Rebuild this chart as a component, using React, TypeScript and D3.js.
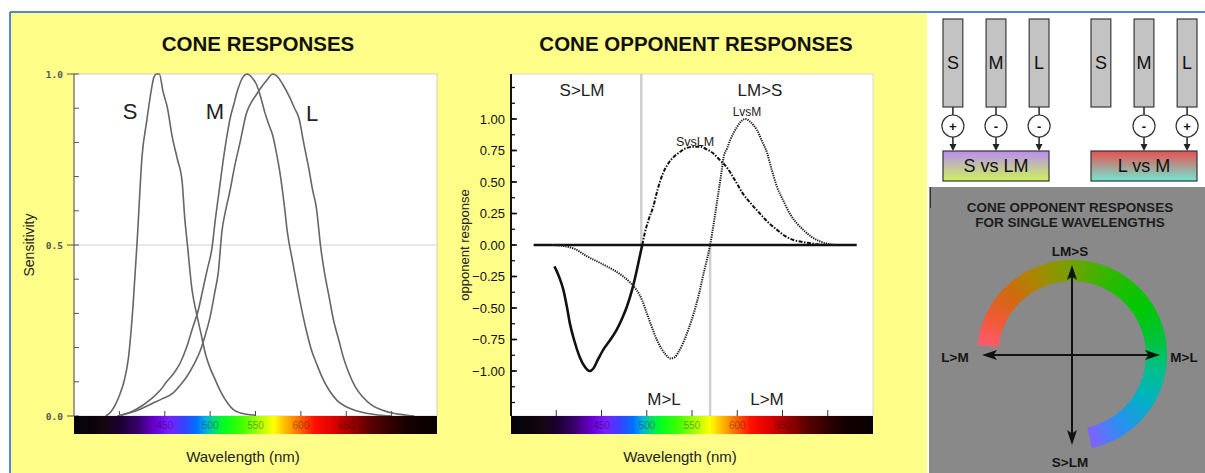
import React, { useEffect, useRef } from "react";
import * as d3 from "d3";

const W = 1205;
const H = 473;

// [wavelength nm, relative sensitivity]
const sCone = [
  [385, 0], [390, 0.01], [395, 0.03], [400, 0.06], [405, 0.1], [410, 0.17], [415, 0.32],
  [420, 0.53], [425, 0.76], [430, 0.86], [435, 0.95], [438, 0.99], [441, 1.0], [444, 1.0],
  [448, 0.95], [453, 0.9], [458, 0.82], [464, 0.75], [469, 0.69], [472, 0.58], [475, 0.5],
  [480, 0.37], [485, 0.3], [490, 0.24], [495, 0.18], [500, 0.14], [505, 0.11], [510, 0.08],
  [515, 0.055], [520, 0.035], [525, 0.02], [530, 0.012], [540, 0.005], [550, 0.002],
];
const mCone = [
  [398, 0], [405, 0.005], [415, 0.015], [425, 0.03], [435, 0.05], [445, 0.075], [452, 0.1],
  [460, 0.125], [467, 0.155], [474, 0.2], [481, 0.26], [487, 0.31], [492, 0.37], [497, 0.43],
  [502, 0.49], [506, 0.58], [510, 0.66], [514, 0.74], [518, 0.81], [522, 0.87], [526, 0.91],
  [530, 0.95], [536, 0.99], [541, 1.0], [546, 0.99], [551, 0.97], [556, 0.93], [560, 0.89],
  [565, 0.85], [569, 0.82], [573, 0.77], [577, 0.71], [582, 0.61], [585, 0.54], [591, 0.45],
  [598, 0.35], [606, 0.25], [612, 0.19], [617, 0.155], [624, 0.11], [631, 0.076], [640, 0.045],
  [650, 0.027], [660, 0.016], [672, 0.008], [685, 0.003], [700, 0],
];
const lCone = [
  [398, 0], [410, 0.008], [423, 0.02], [435, 0.035], [447, 0.05], [459, 0.067], [467, 0.09],
  [474, 0.114], [482, 0.15], [489, 0.19], [495, 0.24], [500, 0.29], [505, 0.36], [509, 0.42],
  [513, 0.54], [517, 0.6], [522, 0.66], [527, 0.73], [533, 0.8], [540, 0.885], [546, 0.92],
  [551, 0.94], [556, 0.96], [562, 0.98], [569, 1.0], [575, 0.99], [580, 0.97], [588, 0.93],
  [593, 0.9], [598, 0.87], [603, 0.8], [609, 0.72], [613, 0.66], [617, 0.61], [622, 0.49],
  [626, 0.42], [631, 0.35], [636, 0.28], [642, 0.22], [647, 0.17], [653, 0.125], [660, 0.085],
  [668, 0.056], [678, 0.032], [690, 0.017], [702, 0.008], [715, 0.003], [725, 0],
];

// [wavelength nm, opponent response]
const svsLM = [
  [398, -0.17], [403, -0.25], [408, -0.36], [412, -0.5], [415, -0.62], [420, -0.76], [426, -0.89],
  [431, -0.96], [437, -1.0], [441, -0.98], [446, -0.91], [452, -0.83], [460, -0.75], [467, -0.67],
  [473, -0.58], [478, -0.49], [484, -0.35], [489, -0.2], [492, -0.1], [495, 0], [498, 0.1],
  [502, 0.2], [507, 0.3], [512, 0.44], [518, 0.57], [524, 0.65], [530, 0.7], [537, 0.74],
  [544, 0.77], [552, 0.78], [559, 0.78], [566, 0.76], [573, 0.73], [580, 0.68], [588, 0.62],
  [597, 0.52], [606, 0.41], [615, 0.33], [625, 0.25], [634, 0.18], [644, 0.12], [653, 0.07],
  [662, 0.04], [671, 0.025], [680, 0.015], [690, 0.005], [700, 0],
];
const lvsM = [
  [395, 0], [410, -0.01], [420, -0.03], [434, -0.09], [445, -0.13], [456, -0.17], [466, -0.21],
  [474, -0.25], [482, -0.3], [489, -0.36], [495, -0.44], [500, -0.54], [505, -0.64], [511, -0.75],
  [516, -0.82], [521, -0.87], [526, -0.9], [531, -0.89], [535, -0.85], [540, -0.78], [546, -0.67],
  [552, -0.54], [558, -0.38], [563, -0.22], [567, -0.1], [570, 0], [574, 0.17], [578, 0.36],
  [582, 0.55], [585, 0.7], [589, 0.77], [592, 0.83], [596, 0.89], [600, 0.94], [604, 0.98],
  [609, 1.0], [614, 0.98], [618, 0.95], [622, 0.91], [627, 0.83], [633, 0.73], [638, 0.6],
  [644, 0.46], [651, 0.35], [658, 0.25], [666, 0.17], [673, 0.12], [682, 0.065], [691, 0.03],
  [700, 0.01], [710, 0],
];

const waveDomain = [350, 750];
const waveTicks = [400, 450, 500, 550, 600, 650, 700];
const spectrumLabels = [450, 500, 550, 600, 650];
const sensLabels = [0, 0.5, 1];
const sensMinor = d3.range(0, 1.001, 0.1);
const oppLabels = [1, 0.75, 0.5, 0.25, 0, -0.25, -0.5, -0.75, -1];
const oppMinor = d3.range(-1.25, 1.26, 0.125);
const zeroLine = [375, 732];
const svsLMSplit = 495; // where the S vs LM curve changes style
const divUpper = 494; // S>LM | LM>S
const divLower = 570; // M>L | L>M

const spectrumStops = [
  [350, "#03030d"], [370, "#0a0308"], [385, "#170510"], [400, "#1a0030"], [420, "#38006a"],
  [440, "#6a00d8"], [455, "#7a20ff"], [470, "#3a40ff"], [485, "#0070ff"], [495, "#00b0e0"],
  [505, "#00e070"], [515, "#00ff20"], [535, "#40ff00"], [555, "#b0ff00"], [570, "#ffff00"],
  [585, "#ffb000"], [600, "#ff6000"], [615, "#ff1000"], [635, "#e00000"], [655, "#a00000"],
  [675, "#600000"], [700, "#300000"], [720, "#120000"], [750, "#0a0000"],
];

const cones = ["S", "M", "L"];
const pathways = [
  { name: "S vs LM", signs: ["+", "-", "-"], top: "#b98df2", bottom: "#cdf35a" },
  { name: "L vs M", signs: [null, "-", "+"], top: "#ea4f50", bottom: "#6fe8d2" },
];

// wheel colour by angle (degrees, 0 = up, clockwise)
const wheelStops = [
  [-84, "#ff5a6e"], [-65, "#f05a35"], [-45, "#d06a10"], [-25, "#a88800"], [0, "#72a200"],
  [25, "#30b800"], [55, "#00c800"], [80, "#00c33a"], [100, "#00c08a"], [120, "#00b4c0"],
  [145, "#2a90f0"], [168, "#8260ff"],
];
const wheelAxes = [
  { label: "LM>S", x: 1070, y: 256 },
  { label: "S>LM", x: 1070, y: 467 },
  { label: "L>M", x: 955, y: 362 },
  { label: "M>L", x: 1184, y: 362 },
];

const FONT = "'Liberation Sans', Arial, sans-serif";

export default function App() {
  const svgRef = useRef<SVGSVGElement>(null);

  useEffect(() => {
    const svg = d3.select(svgRef.current);
    svg.selectAll("*").remove();
    svg.attr("font-family", FONT);

    // page background
    svg.append("rect").attr("width", W).attr("height", H).attr("fill", "#ffffff");
    svg.append("rect").attr("x", 10).attr("y", 12).attr("width", 917).attr("height", H - 12).attr("fill", "#fefe88");
    svg.append("line").attr("x1", 10).attr("x2", W).attr("y1", 12).attr("y2", 12).attr("stroke", "#5585d4").attr("stroke-width", 2);
    svg.append("line").attr("x1", 10).attr("x2", 10).attr("y1", 12).attr("y2", H).attr("stroke", "#5585d4").attr("stroke-width", 2);

    const defs = svg.append("defs");
    const off = d3.scaleLinear().domain(waveDomain).range([0, 1]);
    const spec = defs.append("linearGradient").attr("id", "spec");
    spectrumStops.forEach(([w, c]) => spec.append("stop").attr("offset", off(w as number)).attr("stop-color", c as string));

    pathways.forEach((p, i) => {
      const g = defs.append("linearGradient").attr("id", "pw" + i).attr("x1", 0).attr("x2", 0).attr("y1", 0).attr("y2", 1);
      g.append("stop").attr("offset", 0).attr("stop-color", p.top);
      g.append("stop").attr("offset", 1).attr("stop-color", p.bottom);
    });

    function spectrum(x, y0) {
      const g = svg.append("g");
      g.append("rect")
        .attr("x", x(waveDomain[0]))
        .attr("y", y0)
        .attr("width", x(waveDomain[1]) - x(waveDomain[0]))
        .attr("height", 18)
        .attr("fill", "url(#spec)");
      g.selectAll("text")
        .data(spectrumLabels)
        .join("text")
        .attr("x", (d) => x(d))
        .attr("y", y0 + 13)
        .attr("text-anchor", "middle")
        .attr("font-size", 10)
        .attr("fill", "#000")
        .attr("fill-opacity", 0.38)
        .text((d) => d);
    }

    // ---------- CONE RESPONSES ----------
    const xL = d3.scaleLinear().domain(waveDomain).range([74, 437]);
    const yL = d3.scaleLinear().domain([0, 1]).range([416, 74]);
    const gl = svg.append("g");
    gl.append("rect").attr("x", 74).attr("y", 74).attr("width", 363).attr("height", 342).attr("fill", "#fff").attr("stroke", "#cfcfcf");
    gl.append("line").attr("x1", 74).attr("x2", 437).attr("y1", yL(0.5)).attr("y2", yL(0.5)).attr("stroke", "#d2d2d2");
    gl.append("line").attr("x1", 74).attr("x2", 74).attr("y1", 74).attr("y2", 416).attr("stroke", "#555");
    gl.selectAll("line.minor").data(sensMinor).join("line").attr("class", "minor")
      .attr("x1", 74).attr("x2", 79).attr("y1", (d) => yL(d)).attr("y2", (d) => yL(d)).attr("stroke", "#555");
    gl.selectAll("line.major").data(sensLabels).join("line").attr("class", "major")
      .attr("x1", 67).attr("x2", 74).attr("y1", (d) => yL(d)).attr("y2", (d) => yL(d)).attr("stroke", "#555");
    gl.selectAll("text.yl").data(sensLabels).join("text").attr("class", "yl")
      .attr("x", 63).attr("y", (d) => yL(d) + 3.5).attr("text-anchor", "end")
      .attr("font-family", "'DejaVu Sans Mono', monospace").attr("font-size", 9.5).attr("font-weight", "bold").attr("fill", "#555")
      .text((d) => d3.format(".1f")(d));
    gl.selectAll("line.xt").data(waveTicks).join("line").attr("class", "xt")
      .attr("x1", (d) => xL(d)).attr("x2", (d) => xL(d)).attr("y1", 411).attr("y2", 416).attr("stroke", "#444");

    const lineL = d3.line().x((d) => xL(d[0])).y((d) => yL(d[1])).curve(d3.curveMonotoneX);
    gl.selectAll("path.cone").data([sCone, mCone, lCone]).join("path").attr("class", "cone")
      .attr("d", (d) => lineL(d)).attr("fill", "none").attr("stroke", "#666").attr("stroke-width", 1.6);

    [["S", 130, 119], ["M", 215, 119], ["L", 312, 121]].forEach(([t, x, y]) =>
      gl.append("text").attr("x", x).attr("y", y).attr("text-anchor", "middle").attr("font-size", 22).attr("fill", "#222").text(t)
    );
    spectrum(xL, 416);
    gl.append("text").attr("x", 258).attr("y", 51).attr("text-anchor", "middle").attr("font-size", 20.5).attr("font-weight", "bold").attr("fill", "#111").text("CONE RESPONSES");
    gl.append("text").attr("x", 243).attr("y", 462).attr("text-anchor", "middle").attr("font-size", 15).attr("fill", "#222").text("Wavelength (nm)");
    gl.append("text").attr("transform", "translate(34,245) rotate(-90)").attr("text-anchor", "middle").attr("font-size", 14).attr("fill", "#222").text("Sensitivity");

    // ---------- CONE OPPONENT RESPONSES ----------
    const xM = d3.scaleLinear().domain(waveDomain).range([511, 873]);
    const yM = d3.scaleLinear().domain([-1, 1]).range([371, 119]);
    const gm = svg.append("g");
    gm.append("rect").attr("x", 511).attr("y", 74).attr("width", 362).attr("height", 342).attr("fill", "#fff").attr("stroke", "#d8d8d8");
    gm.append("line").attr("x1", xM(divUpper)).attr("x2", xM(divUpper)).attr("y1", 74).attr("y2", yM(0)).attr("stroke", "#cfcfcf").attr("stroke-width", 2.5);
    gm.append("line").attr("x1", xM(divLower)).attr("x2", xM(divLower)).attr("y1", yM(0)).attr("y2", 416).attr("stroke", "#cfcfcf").attr("stroke-width", 2.5);
    gm.append("line").attr("x1", 511).attr("x2", 511).attr("y1", 74).attr("y2", 416).attr("stroke", "#111").attr("stroke-width", 2);
    gm.selectAll("line.minor").data(oppMinor).join("line").attr("class", "minor")
      .attr("x1", 511).attr("x2", 515).attr("y1", (d) => yM(d)).attr("y2", (d) => yM(d)).attr("stroke", "#111").attr("stroke-width", 1.3);
    gm.selectAll("line.major").data(oppLabels).join("line").attr("class", "major")
      .attr("x1", 511).attr("x2", 517).attr("y1", (d) => yM(d)).attr("y2", (d) => yM(d)).attr("stroke", "#111").attr("stroke-width", 1.6);
    gm.selectAll("text.yl").data(oppLabels).join("text").attr("class", "yl")
      .attr("x", 505).attr("y", (d) => yM(d) + 4.5).attr("text-anchor", "end").attr("font-size", 13).attr("fill", "#111")
      .text((d) => d3.format(".2f")(d));
    gm.selectAll("line.xt").data(waveTicks).join("line").attr("class", "xt")
      .attr("x1", (d) => xM(d)).attr("x2", (d) => xM(d)).attr("y1", 410).attr("y2", 416).attr("stroke", "#333");
    gm.append("line").attr("x1", xM(zeroLine[0])).attr("x2", xM(zeroLine[1])).attr("y1", yM(0)).attr("y2", yM(0)).attr("stroke", "#111").attr("stroke-width", 2.4);

    const lineM = d3.line().x((d) => xM(d[0])).y((d) => yM(d[1])).curve(d3.curveMonotoneX);
    gm.append("path").attr("d", lineM(svsLM.filter((d) => d[0] <= svsLMSplit)))
      .attr("fill", "none").attr("stroke", "#111").attr("stroke-width", 2.6);
    gm.append("path").attr("d", lineM(svsLM.filter((d) => d[0] >= svsLMSplit)))
      .attr("fill", "none").attr("stroke", "#111").attr("stroke-width", 2).attr("stroke-dasharray", "4,1.5,1.5,1.5");
    gm.append("path").attr("d", lineM(lvsM))
      .attr("fill", "none").attr("stroke", "#222").attr("stroke-width", 2).attr("stroke-dasharray", "1.3,1");

    [["S>LM", 582, 96], ["LM>S", 760, 96], ["M>L", 664, 405], ["L>M", 767, 405]].forEach(([t, x, y]) =>
      gm.append("text").attr("x", x).attr("y", y).attr("text-anchor", "middle").attr("font-size", 17).attr("fill", "#222").text(t)
    );
    gm.append("text").attr("x", 747).attr("y", 116).attr("text-anchor", "middle").attr("font-size", 12).attr("fill", "#222").text("LvsM");
    gm.append("text").attr("x", 695).attr("y", 146).attr("text-anchor", "middle").attr("font-size", 12.5).attr("fill", "#222").text("SvsLM");
    spectrum(xM, 416);
    gm.append("text").attr("x", 696).attr("y", 51).attr("text-anchor", "middle").attr("font-size", 20.5).attr("font-weight", "bold").attr("fill", "#111").text("CONE OPPONENT RESPONSES");
    gm.append("text").attr("x", 680).attr("y", 462).attr("text-anchor", "middle").attr("font-size", 15).attr("fill", "#222").text("Wavelength (nm)");
    gm.append("text").attr("transform", "translate(469,245) rotate(-90)").attr("text-anchor", "middle").attr("font-size", 13).attr("fill", "#222").text("opponent response");

    // ---------- pathway diagram ----------
    const gd = svg.append("g");
    gd.append("rect").attr("x", 927).attr("y", 13).attr("width", W - 927).attr("height", 174).attr("fill", "#fff");
    const groupX = [943, 1091];
    const coneX = d3.scaleBand().domain(cones).range([0, 106]).paddingInner(0.54).paddingOuter(0);
    pathways.forEach((p, gi) => {
      const g = gd.append("g").attr("transform", `translate(${groupX[gi]},0)`);
      const cx = (c) => coneX(c) + coneX.bandwidth() / 2;
      g.selectAll("rect.cone").data(cones).join("rect").attr("class", "cone")
        .attr("x", (c) => coneX(c)).attr("y", 19).attr("width", coneX.bandwidth()).attr("height", 88)
        .attr("fill", "#c3c3c3").attr("stroke", "#3a3a3a").attr("stroke-width", 1.2);
      g.selectAll("text.cone").data(cones).join("text").attr("class", "cone")
        .attr("x", cx).attr("y", 69).attr("text-anchor", "middle").attr("font-size", 18).attr("fill", "#111").text((c) => c);
      const inputs = cones.map((c, i) => ({ c, s: p.signs[i] })).filter((d) => d.s);
      const ig = g.selectAll("g.in").data(inputs).join("g").attr("transform", (d) => `translate(${cx(d.c)},0)`);
      ig.append("line").attr("y1", 107).attr("y2", 115).attr("stroke", "#222").attr("stroke-width", 1.5);
      ig.append("circle").attr("cy", 126).attr("r", 11).attr("fill", "#fff").attr("stroke", "#333").attr("stroke-width", 1.2);
      ig.append("text").attr("y", 131).attr("text-anchor", "middle").attr("font-size", 13).attr("font-weight", "bold").attr("fill", "#111").text((d) => d.s);
      ig.append("line").attr("y1", 137).attr("y2", 146).attr("stroke", "#222").attr("stroke-width", 1.5);
      ig.append("path").attr("d", "M-3.5,144L3.5,144L0,151Z").attr("fill", "#222");
      g.append("rect").attr("x", 0).attr("y", 151).attr("width", 106).attr("height", 30)
        .attr("fill", `url(#pw${gi})`).attr("stroke", "#333").attr("stroke-width", 1.2);
      g.append("text").attr("x", 53).attr("y", 172).attr("text-anchor", "middle").attr("font-size", 18).attr("fill", "#111").text(p.name);
    });

    // ---------- opponent wheel ----------
    const gw = svg.append("g");
    gw.append("rect").attr("x", 929).attr("y", 187).attr("width", W - 929).attr("height", H - 187).attr("fill", "#898989");
    gw.append("line").attr("x1", 930.5).attr("x2", 930.5).attr("y1", 187).attr("y2", 208).attr("stroke", "#333");
    gw.append("text").attr("x", 1070).attr("y", 212).attr("text-anchor", "middle").attr("font-size", 13.5).attr("font-weight", "bold").attr("fill", "#1c1c1c").text("CONE OPPONENT RESPONSES");
    gw.append("text").attr("x", 1070).attr("y", 227).attr("text-anchor", "middle").attr("font-size", 13.5).attr("font-weight", "bold").attr("fill", "#1c1c1c").text("FOR SINGLE WAVELENGTHS");

    const cx0 = 1072;
    const cy0 = 355;
    const wheelColor = d3.scaleLinear().domain(wheelStops.map((d) => d[0])).range(wheelStops.map((d) => d[1])).interpolate(d3.interpolateRgb);
    const a0 = wheelStops[0][0] as number;
    const a1 = wheelStops[wheelStops.length - 1][0] as number;
    const segs = d3.range(a0, a1, 1.5);
    const arc = d3.arc().innerRadius(74).outerRadius(95);
    gw.append("g").attr("transform", `translate(${cx0},${cy0})`)
      .selectAll("path").data(segs).join("path")
      .attr("d", (a) => arc({ startAngle: (a * Math.PI) / 180, endAngle: (Math.min(a + 2, a1) * Math.PI) / 180 }))
      .attr("fill", (a) => wheelColor(a + 0.75));

    const head = "M0,0L-5,15L0,11.5L5,15Z";
    gw.append("line").attr("x1", cx0).attr("x2", cx0).attr("y1", 268).attr("y2", 442).attr("stroke", "#111").attr("stroke-width", 2);
    gw.append("line").attr("x1", 985).attr("x2", 1157).attr("y1", cy0).attr("y2", cy0).attr("stroke", "#111").attr("stroke-width", 2);
    [[cx0, 265, 0], [cx0, 445, 180], [982, cy0, -90], [1160, cy0, 90]].forEach(([x, y, r]) =>
      gw.append("path").attr("d", head).attr("transform", `translate(${x},${y}) rotate(${r})`).attr("fill", "#111")
    );
    gw.selectAll("text.ax").data(wheelAxes).join("text").attr("class", "ax")
      .attr("x", (d) => d.x).attr("y", (d) => d.y).attr("text-anchor", "middle")
      .attr("font-size", 13.5).attr("font-weight", "bold").attr("fill", "#151515").text((d) => d.label);
  }, []);

  return (
    <div style={{ position: "absolute", left: 0, top: 0 }}>
      <svg ref={svgRef} width={W} height={H} style={{ display: "block" }}></svg>
    </div>
  );
}
